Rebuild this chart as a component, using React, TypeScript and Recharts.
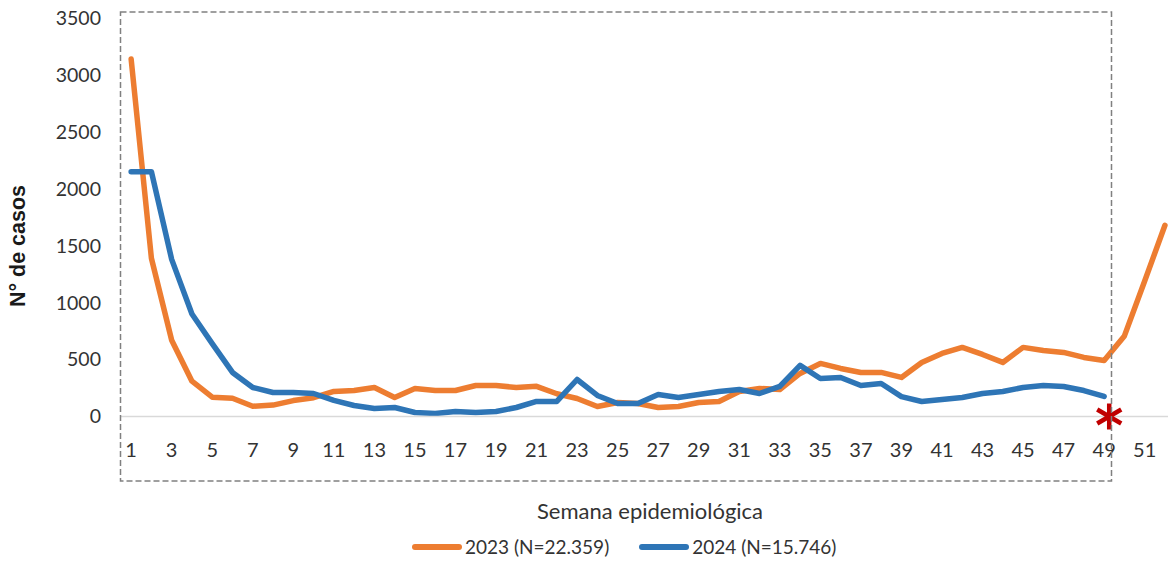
import React from 'react';
import { LineChart, Line, XAxis, YAxis, ReferenceDot, Legend } from 'recharts';

const weeks = [1,2,3,4,5,6,7,8,9,10,11,12,13,14,15,16,17,18,19,20,21,22,23,24,25,26,27,28,29,30,31,32,33,34,35,36,37,38,39,40,41,42,43,44,45,46,47,48,49,50,51,52];

const cases2023 = [3140,1390,670,310,170,160,90,100,140,165,220,228,255,167,245,228,228,272,272,255,265,200,158,88,123,114,79,88,123,132,220,246,237,378,466,422,387,387,343,475,554,607,545,475,607,580,563,519,492,708,1190,1680];

const cases2024 = [2150,2150,1380,900,640,387,255,211,211,202,141,97,70,79,35,26,44,35,44,79,132,132,325,185,114,114,193,167,193,220,237,202,264,449,334,343,272,290,175,132,150,167,202,220,255,272,264,228,176];

const xTicks = [1,3,5,7,9,11,13,15,17,19,21,23,25,27,29,31,33,35,37,39,41,43,45,47,49,51];
const yTicks = [0,500,1000,1500,2000,2500,3000,3500];

const series = [
  { key: 'y2023', name: '2023 (N=22.359)', color: '#ED7D31' },
  { key: 'y2024', name: '2024 (N=15.746)', color: '#2E75B6' },
];

const data = weeks.map((w, i) => ({
  week: w,
  y2023: cases2023[i] ?? null,
  y2024: cases2024[i] ?? null,
}));

const FONT = 'Lato, "Open Sans", sans-serif';
const TEXT = '#333333';

const Asterisk = (props: any) => {
  const { cx, cy } = props;
  if (cx == null || cy == null) return null;
  const c = '#C00000';
  return (
    <g stroke={c} strokeWidth={4.5} strokeLinecap="butt">
      <line x1={cx} y1={cy - 13} x2={cx} y2={cy + 13} />
      <line x1={cx - 12} y1={cy - 7} x2={cx + 12} y2={cy + 7} />
      <line x1={cx - 12} y1={cy + 7} x2={cx + 12} y2={cy - 7} />
    </g>
  );
};

const LegendContent = (props: any) => {
  const payload = props.payload || [];
  return (
    <div style={{ display: 'flex', alignItems: 'center', marginLeft: 412, fontFamily: FONT, fontSize: 19, color: TEXT }}>
      {payload.map((p: any, i: number) => (
        <div key={i} style={{ display: 'flex', alignItems: 'center', marginRight: 30 }}>
          <div style={{ width: 50, height: 6, borderRadius: 3, background: p.color, marginRight: 3 }} />
          <span>{p.value}</span>
        </div>
      ))}
    </div>
  );
};

export default function App() {
  return (
    <div style={{ position: 'absolute', left: 0, top: 0, width: 1168, height: 561, background: '#fff' }}>
      <LineChart width={1168} height={561} data={data} margin={{ top: 18, right: 0, left: 0, bottom: 84.5 }}>
        <XAxis
          dataKey="week"
          type="number"
          domain={[0.5, 52.15]}
          ticks={xTicks}
          interval={0}
          height={60}
          tickLine={false}
          tickMargin={20}
          axisLine={{ stroke: '#D9D9D9', strokeWidth: 1.5 }}
          tick={{ fill: TEXT, fontSize: 20, fontFamily: FONT }}
          label={{
            content: () => (
              <text x={650} y={510} textAnchor="middle" dominantBaseline="central" fill={TEXT} fontSize={22} fontFamily={FONT}>
                Semana epidemiológica
              </text>
            ),
          }}
        />
        <YAxis
          type="number"
          domain={[0, 3500]}
          ticks={yTicks}
          width={121}
          tickLine={false}
          axisLine={false}
          tickMargin={14}
          tick={{ fill: TEXT, fontSize: 19.5, fontFamily: FONT }}
          label={{
            content: () => (
              <text
                x={18}
                y={246}
                transform="rotate(-90, 18, 246)"
                textAnchor="middle"
                dominantBaseline="central"
                fill="#1a1a1a"
                fontSize={21.5}
                fontWeight="bold"
                fontFamily='"Liberation Sans", Arial, sans-serif'
              >
                N° de casos
              </text>
            ),
          }}
        />
        {series.map((s) => (
          <Line
            key={s.key}
            type="linear"
            dataKey={s.key}
            name={s.name}
            stroke={s.color}
            strokeWidth={5.5}
            strokeLinecap="round"
            strokeLinejoin="round"
            dot={false}
            activeDot={false}
            isAnimationActive={false}
            connectNulls={false}
          />
        ))}
        <ReferenceDot x={49.25} y={0} r={0} shape={<Asterisk />} ifOverflow="visible" />
        <Legend
          verticalAlign="middle"
          align="center"
          layout="horizontal"
          content={<LegendContent />}
          wrapperStyle={{ top: 535, left: 0, width: 1168 }}
        />
      </LineChart>
      <svg width={1168} height={561} style={{ position: 'absolute', left: 0, top: 0, pointerEvents: 'none' }}>
        <rect x={120.5} y={12} width={991} height={469} fill="none" stroke="#808080" strokeWidth={1.5} strokeDasharray="6 3" />
      </svg>
    </div>
  );
}
